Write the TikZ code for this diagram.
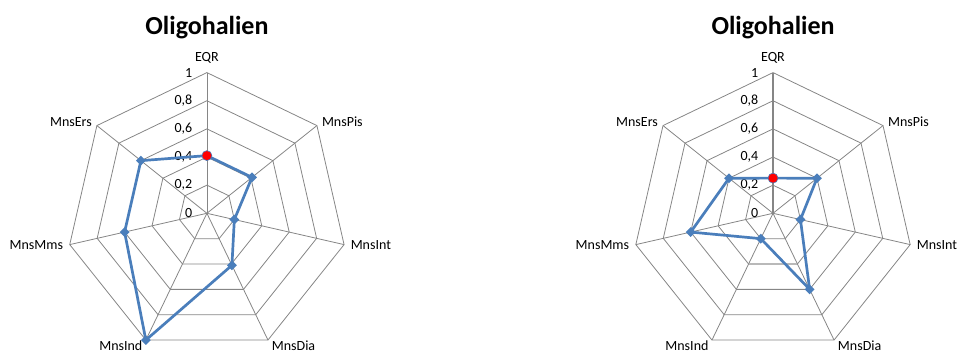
\documentclass[tikz,border=0pt]{standalone}
\usepackage{fontspec}
\setmainfont{Carlito}
\usetikzlibrary{shapes.geometric,calc}
\definecolor{gridgray}{HTML}{868686}
\definecolor{serblue}{HTML}{4A7EBB}
\tikzset{
  gridline/.style={draw=gridgray, line width=0.8pt, line join=miter},
  series/.style={draw=serblue, line width=2.7pt, line join=round},
  dmark/.style={diamond, aspect=1, fill=serblue, inner sep=0pt, minimum size=10pt},
  rmark/.style={circle, fill=red, draw=serblue, line width=0.6pt, inner sep=0pt, minimum size=10pt},
  axlabel/.style={font=\fontsize{14}{16}\selectfont, inner sep=0pt},
  ticklabel/.style={font=\fontsize{14}{16}\selectfont, inner sep=0pt, anchor=east},
  charttitle/.style={font=\bfseries\fontsize{26}{30}\selectfont, inner sep=0pt, anchor=base}
}
% #1 prefix, #2 cx, #3 cy, #4 values
\newcommand\radarchart[4]{%
  \coordinate (#1c) at (#2,#3);
  \foreach \i in {0,...,6}{
    \foreach \k in {1,...,5}{
      \coordinate (#1a\i r\k) at ({#2+28.14*\k*sin(\i*360/7)},{#3-28.14*\k*cos(\i*360/7)});
    }
  }
  \foreach \k in {1,...,5}{
    \draw[gridline] (#1a0r\k) -- (#1a1r\k) -- (#1a2r\k) -- (#1a3r\k) -- (#1a4r\k) -- (#1a5r\k) -- (#1a6r\k) -- cycle;
  }
  \foreach \i in {0,...,6}{ \draw[gridline] (#1c) -- (#1a\i r5); }
  \foreach \k/\t in {0/0,1/{0,2},2/{0,4},3/{0,6},4/{0,8},5/1}{
    \node[ticklabel] (#1t\k) at ({#2-14.5},{#3-28.14*\k}) {\t};
  }
  \node[axlabel, anchor=base] (#1l0) at ($(#1a0r5)+(0,-11.3)$) {EQR};
  \node[axlabel, anchor=west] (#1l1) at ($(#1a1r5)+(4.9,-3.8)$) {MnsPis};
  \node[axlabel, anchor=west] (#1l2) at ($(#1a2r5)+(6.5,0.4)$) {MnsInt};
  \node[axlabel, anchor=south west] (#1l3) at ($(#1a3r5)+(3.7,10.5)$) {MnsDia};
  \node[axlabel, anchor=south east] (#1l4) at ($(#1a4r5)+(-3.3,10.5)$) {MnsInd};
  \node[axlabel, anchor=east] (#1l5) at ($(#1a5r5)+(-6.5,0.4)$) {MnsMms};
  \node[axlabel, anchor=east] (#1l6) at ($(#1a6r5)+(-4.9,-3.8)$) {MnsErs};
  \node[charttitle] (#1title) at (#2,35) {Oligohalien};
  \foreach \v [count=\i from 0] in {#4}{
    \coordinate (#1v\i) at ({#2+140.7*\v*sin(\i*360/7)},{#3-140.7*\v*cos(\i*360/7)});
  }
}
\newcommand\radarseries[1]{%
  \draw[series] (#1v0) -- (#1v1) -- (#1v2) -- (#1v3) -- (#1v4) -- (#1v5) -- (#1v6) -- cycle;
  \foreach \i in {1,...,6}{ \node[dmark] (#1m\i) at (#1v\i) {}; }
  \node[rmark] (#1m0) at (#1v0) {};
}
\begin{document}
\begin{tikzpicture}[x=1pt,y=-1pt]
  \path[use as bounding box] (0,0) rectangle (960,352);
  % left chart
  \radarchart{L}{206.9}{213.3}{0.41,0.41,0.2,0.41,1,0.6,0.6}
  \radarseries{L}
  % right chart
  \radarchart{R}{773}{213.3}{0.25,0.4,0.2,0.6,0.2,0.6,0.4}
  \draw[draw=gray!55, line width=1.5pt] (Ra4r2) -- (Ra3r2);
  \draw[draw=gridgray, line width=1.7pt] (Rc) -- (Ra0r5);
  \radarseries{R}
\end{tikzpicture}
\end{document}
